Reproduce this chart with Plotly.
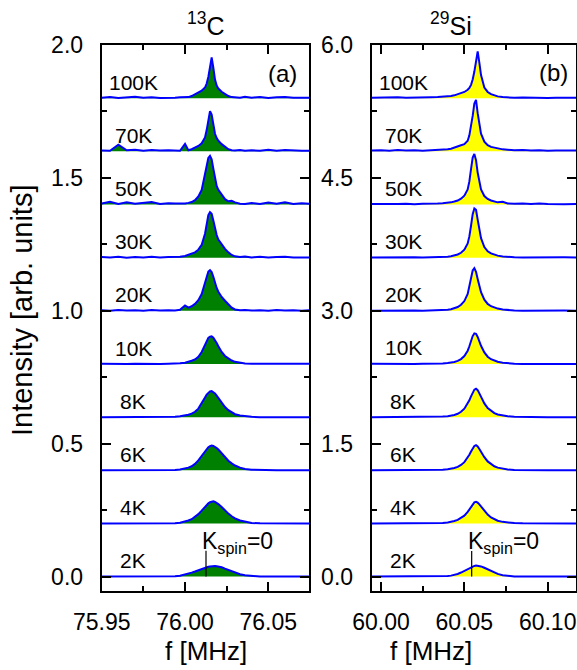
import plotly.graph_objects as go

# ---------------------------------------------------------------------------
# Data
# ---------------------------------------------------------------------------
TEMPS = ["2K", "4K", "6K", "8K", "10K", "20K", "30K", "50K", "70K", "100K"]

# 13C spectra: frequency grid (MHz) and intensities above each baseline
C13_FREQ = [75.950, 75.955, 75.960, 75.965, 75.970, 75.975, 75.980, 75.985, 75.990, 75.994,
            75.997, 76.000, 76.002, 76.004, 76.006, 76.008, 76.010, 76.012, 76.013, 76.014,
            76.015, 76.016, 76.017, 76.018, 76.019, 76.020, 76.022, 76.024, 76.026, 76.028,
            76.030, 76.033, 76.036, 76.040, 76.045, 76.050, 76.055, 76.060, 76.065, 76.070,
            76.0746]

C13_2K = [0, 0, 0, 0, 0, 0, 0, 0, 0, 0.001,
          0.003, 0.007, 0.011, 0.015, 0.019, 0.024, 0.029, 0.033, 0.035, 0.037,
          0.038, 0.039, 0.040, 0.040, 0.039, 0.038, 0.035, 0.030, 0.025, 0.020,
          0.015, 0.009, 0.005, 0.002, 0, 0, 0, 0, 0, 0,
          0]
C13_4K = [0, 0, 0, 0, 0, 0, 0, 0, 0, 0.001,
          0.003, 0.007, 0.011, 0.016, 0.024, 0.035, 0.048, 0.063, 0.070, 0.076,
          0.080, 0.083, 0.083, 0.081, 0.078, 0.073, 0.062, 0.049, 0.037, 0.027,
          0.019, 0.011, 0.006, 0.002, 0.0005, 0, 0, 0, 0, 0,
          0]
C13_6K = [0, 0, 0, 0, 0, 0, 0, 0, 0, 0.001,
          0.003, 0.006, 0.010, 0.015, 0.024, 0.037, 0.053, 0.071, 0.080, 0.087,
          0.091, 0.093, 0.092, 0.089, 0.084, 0.078, 0.064, 0.049, 0.036, 0.026,
          0.018, 0.010, 0.005, 0.002, 0.0005, 0, 0, 0, 0, 0,
          0]
C13_8K = [0, 0, 0, 0, 0, 0, 0, 0, 0, 0.001,
          0.003, 0.006, 0.009, 0.013, 0.020, 0.032, 0.051, 0.074, 0.085, 0.093,
          0.097, 0.098, 0.095, 0.089, 0.081, 0.072, 0.054, 0.038, 0.026, 0.017,
          0.011, 0.006, 0.003, 0.001, 0, 0, 0, 0, 0, 0,
          0]
C13_10K = [0.001, 0, 0.001, 0, 0.001, 0, 0.001, 0, 0.001, 0.001,
           0.003, 0.005, 0.008, 0.012, 0.017, 0.027, 0.045, 0.072, 0.087, 0.098,
           0.103, 0.104, 0.099, 0.090, 0.079, 0.067, 0.045, 0.030, 0.020, 0.013,
           0.008, 0.004, 0.002, 0.001, 0.001, 0, 0.001, 0, 0.001, 0,
           0.001]
C13_20K = [0.002, 0.000, 0.003, 0.001, 0.002, 0.000, 0.003, 0.001, 0.002, 0.001,
           0.004, 0.020, 0.012, 0.017, 0.026, 0.040, 0.063, 0.105, 0.130, 0.148,
           0.153, 0.146, 0.128, 0.105, 0.086, 0.072, 0.052, 0.038, 0.025, 0.012,
           0.005, 0.002, 0.003, 0.001, 0.002, 0.000, 0.003, 0.001, 0.002, 0.000,
           0.002]
C13_30K = [0.002, 0.001, 0.003, 0.000, 0.002, 0.001, 0.003, 0.001, 0.002, 0.002,
           0.003, 0.006, 0.010, 0.014, 0.020, 0.030, 0.048, 0.090, 0.128, 0.160,
           0.171, 0.165, 0.140, 0.110, 0.085, 0.068, 0.048, 0.033, 0.020, 0.010,
           0.005, 0.002, 0.004, 0.001, 0.003, 0.001, 0.002, 0.003, 0.001, 0.002,
           0.001]
C13_50K = [0.004, 0.010, 0.002, 0.008, 0.003, 0.006, 0.009, 0.002, 0.005, 0.004,
           0.003, 0.004, 0.006, 0.009, 0.016, 0.030, 0.055, 0.110, 0.150, 0.175,
           0.183, 0.170, 0.135, 0.095, 0.070, 0.055, 0.035, 0.020, 0.012, 0.014,
           0.008, 0.003, 0.002, 0.006, 0.002, 0.007, 0.003, 0.008, 0.002, 0.005,
           0.003]
C13_70K = [0.003, 0.002, 0.025, 0.004, 0.006, 0.002, 0.005, 0.003, 0.004, 0.002,
           0.002, 0.028, 0.004, 0.008, 0.013, 0.020, 0.030, 0.052, 0.080, 0.125,
           0.151, 0.138, 0.095, 0.066, 0.050, 0.040, 0.027, 0.017, 0.008, 0.004,
           0.003, 0.005, 0.002, 0.004, 0.002, 0.006, 0.002, 0.005, 0.003, 0.002,
           0.002]
C13_100K = [0.002, 0.004, 0.001, 0.003, 0.005, 0.002, 0.003, 0.001, 0.003, 0.002,
            0.003, 0.003, 0.004, 0.008, 0.014, 0.020, 0.028, 0.040, 0.055, 0.080,
            0.120, 0.153, 0.115, 0.070, 0.048, 0.036, 0.024, 0.016, 0.008, 0.004,
            0.003, 0.002, 0.005, 0.002, 0.004, 0.001, 0.003, 0.004, 0.002, 0.003,
            0.002]

# 29Si spectra
SI29_FREQ = [59.9944, 60.000, 60.005, 60.010, 60.015, 60.020, 60.025, 60.030, 60.034, 60.037,
             60.040, 60.042, 60.044, 60.046, 60.048, 60.050, 60.052, 60.053, 60.054, 60.055,
             60.056, 60.057, 60.058, 60.059, 60.060, 60.062, 60.064, 60.066, 60.068, 60.070,
             60.073, 60.076, 60.080, 60.085, 60.090, 60.095, 60.100, 60.105, 60.110, 60.117]

SI29_2K = [0, 0, 0, 0, 0, 0, 0, 0, 0, 0.002,
           0.006, 0.011, 0.019, 0.030, 0.046, 0.066, 0.088, 0.099, 0.108, 0.116,
           0.121, 0.124, 0.123, 0.120, 0.115, 0.100, 0.082, 0.062, 0.045, 0.031,
           0.016, 0.007, 0.002, 0, 0, 0, 0, 0, 0, 0]
SI29_4K = [0, 0, 0, 0, 0, 0, 0, 0, 0.003, 0.006,
           0.012, 0.018, 0.027, 0.040, 0.060, 0.088, 0.130, 0.158, 0.188, 0.215,
           0.238, 0.245, 0.236, 0.215, 0.190, 0.142, 0.100, 0.068, 0.046, 0.031,
           0.018, 0.010, 0.004, 0.001, 0, 0, 0, 0, 0, 0]
SI29_6K = [0, 0, 0, 0, 0, 0, 0, 0, 0.003, 0.006,
           0.011, 0.017, 0.026, 0.039, 0.060, 0.092, 0.140, 0.175, 0.212, 0.248,
           0.275, 0.283, 0.270, 0.240, 0.205, 0.148, 0.100, 0.067, 0.045, 0.030,
           0.017, 0.009, 0.004, 0.001, 0, 0, 0, 0, 0, 0]
SI29_8K = [0, 0, 0, 0, 0, 0, 0, 0, 0.003, 0.006,
           0.011, 0.016, 0.025, 0.038, 0.060, 0.095, 0.150, 0.190, 0.235, 0.278,
           0.310, 0.320, 0.305, 0.268, 0.225, 0.155, 0.102, 0.068, 0.045, 0.030,
           0.017, 0.009, 0.004, 0.001, 0, 0, 0, 0, 0, 0]
SI29_10K = [0.002, 0, 0.002, 0, 0.002, 0, 0.002, 0, 0.003, 0.005,
            0.010, 0.015, 0.023, 0.035, 0.055, 0.090, 0.150, 0.200, 0.260, 0.315,
            0.345, 0.340, 0.305, 0.255, 0.205, 0.130, 0.082, 0.054, 0.037, 0.025,
            0.014, 0.008, 0.003, 0.001, 0.002, 0, 0.002, 0, 0.002, 0]
SI29_20K = [0.002, 0.004, 0.001, 0.003, 0.002, 0.004, 0.001, 0.003, 0.004, 0.007,
            0.012, 0.018, 0.028, 0.043, 0.068, 0.110, 0.190, 0.270, 0.370, 0.455,
            0.480, 0.440, 0.360, 0.280, 0.210, 0.125, 0.078, 0.052, 0.036, 0.025,
            0.014, 0.008, 0.004, 0.002, 0.004, 0.001, 0.003, 0.002, 0.004, 0.002]
SI29_30K = [0.003, 0.005, 0.002, 0.006, 0.003, 0.005, 0.002, 0.004, 0.004, 0.007,
            0.011, 0.016, 0.024, 0.036, 0.055, 0.090, 0.160, 0.240, 0.360, 0.490,
            0.555, 0.540, 0.430, 0.310, 0.220, 0.120, 0.072, 0.048, 0.033, 0.023,
            0.013, 0.008, 0.005, 0.003, 0.005, 0.002, 0.006, 0.003, 0.005, 0.003]
SI29_50K = [0.006, 0.004, 0.010, 0.005, 0.008, 0.004, 0.009, 0.006, 0.010, 0.014,
            0.018, 0.024, 0.033, 0.045, 0.066, 0.100, 0.170, 0.260, 0.400, 0.530,
            0.570, 0.500, 0.360, 0.250, 0.170, 0.095, 0.062, 0.045, 0.032, 0.024,
            0.030, 0.012, 0.008, 0.012, 0.006, 0.010, 0.005, 0.008, 0.004, 0.006]
SI29_70K = [0.008, 0.012, 0.006, 0.014, 0.008, 0.012, 0.006, 0.010, 0.014, 0.018,
            0.024, 0.030, 0.040, 0.055, 0.068, 0.080, 0.120, 0.180, 0.270, 0.400,
            0.540, 0.580, 0.430, 0.290, 0.200, 0.110, 0.070, 0.050, 0.040, 0.030,
            0.022, 0.018, 0.012, 0.016, 0.008, 0.012, 0.006, 0.010, 0.008, 0.010]
SI29_100K = [0.004, 0.008, 0.005, 0.009, 0.006, 0.010, 0.007, 0.010, 0.012, 0.015,
             0.020, 0.025, 0.032, 0.042, 0.055, 0.070, 0.095, 0.115, 0.150, 0.210,
             0.300, 0.440, 0.527, 0.400, 0.260, 0.120, 0.070, 0.045, 0.030, 0.020,
             0.012, 0.008, 0.005, 0.007, 0.004, 0.006, 0.003, 0.005, 0.004, 0.005]

C13_SET = [C13_2K, C13_4K, C13_6K, C13_8K, C13_10K, C13_20K, C13_30K, C13_50K, C13_70K, C13_100K]
SI29_SET = [SI29_2K, SI29_4K, SI29_6K, SI29_8K, SI29_10K, SI29_20K, SI29_30K, SI29_50K, SI29_70K, SI29_100K]

# K_spin = 0 reference frequencies
KSPIN0_C13 = 76.0126
KSPIN0_SI29 = 60.0544

# ---------------------------------------------------------------------------
# Style
# ---------------------------------------------------------------------------
W, H = 577, 670
FONT = "Arial, Liberation Sans, sans-serif"
BLUE = "#0000ff"
GREEN = "#008000"
YELLOW = "#ffff00"
STEP_A, STEP_B = 0.2, 0.6          # vertical offset between stacked spectra
XR_A = [75.95, 76.0746]
XR_B = [59.9944, 60.117]
YR_A = [-0.053, 2.0]
YR_B = [-0.159, 6.0]
DOM_XA = [101.7, 309.3]            # panel extents in pixels
DOM_XB = [371.7, 576.0]
DOM_Y = [590.7, 45.0]


def px_x(p):
    return p / W


def px_y(p):
    return 1 - p / H


fig = go.Figure()


def add_panel(freqs, spectra, step, xr, xa, ya, fill):
    for i, vals in enumerate(spectra):
        off = i * step
        fig.add_trace(go.Scatter(
            x=[xr[0], xr[1]], y=[off, off], mode="lines",
            line=dict(width=0, color=BLUE), xaxis=xa, yaxis=ya,
            showlegend=False, hoverinfo="skip"))
        fig.add_trace(go.Scatter(
            x=freqs, y=[off + v for v in vals], mode="lines",
            line=dict(width=2, color=BLUE), fill="tonexty", fillcolor=fill,
            xaxis=xa, yaxis=ya, showlegend=False, name=TEMPS[i]))


add_panel(C13_FREQ, C13_SET, STEP_A, XR_A, "x", "y", GREEN)
add_panel(SI29_FREQ, SI29_SET, STEP_B, XR_B, "x2", "y2", YELLOW)

tickfont = dict(family=FONT, size=23, color="black")
minor_style = dict(ticks="inside", ticklen=5, tickwidth=1.5, tickcolor="#000000",
                   showgrid=False)


def xaxis(dom, xr, tick0, anchor):
    return dict(domain=[px_x(dom[0]), px_x(dom[1])], range=xr, anchor=anchor,
                tickmode="linear", tick0=tick0, dtick=0.05, tickformat=".2f",
                ticks="inside", ticklen=9, tickwidth=1.5, tickcolor="#000000",
                showline=True, linewidth=2, linecolor="#000000", mirror="allticks",
                showgrid=False, zeroline=False, tickfont=tickfont,
                automargin=False, ticklabelstandoff=10,
                minor=dict(dtick=0.025, **minor_style))


def yaxis(anchor, yr, dtick):
    return dict(domain=[px_y(DOM_Y[0]), px_y(DOM_Y[1])], range=yr, anchor=anchor,
                tickmode="linear", tick0=0, dtick=dtick, tickformat=".1f",
                ticks="inside", ticklen=9, tickwidth=1.5, tickcolor="#000000",
                showline=True, linewidth=2, linecolor="#000000", mirror="allticks",
                showgrid=False, zeroline=False, tickfont=tickfont,
                automargin=False, ticklabelstandoff=12,
                minor=dict(dtick=dtick / 2, **minor_style))


fig.update_layout(
    width=W, height=H, margin=dict(l=0, r=0, t=0, b=0, pad=0),
    paper_bgcolor="white", plot_bgcolor="rgba(0,0,0,0)",
    xaxis=xaxis(DOM_XA, XR_A, 75.95, "y"),
    yaxis=yaxis("x", YR_A, 0.5),
    xaxis2=xaxis(DOM_XB, XR_B, 60.0, "y2"),
    yaxis2=yaxis("x2", YR_B, 1.5),
)

ann = []
# temperature labels
for i, t in enumerate(TEMPS):
    ann.append(dict(x=75.9688, y=i * STEP_A + 0.060, xref="x", yref="y", text=t,
                    showarrow=False, xanchor="center", yanchor="middle",
                    font=dict(family=FONT, size=21, color="black")))
    ann.append(dict(x=60.0132, y=i * STEP_B + 0.181, xref="x2", yref="y2", text=t,
                    showarrow=False, xanchor="center", yanchor="middle",
                    font=dict(family=FONT, size=21, color="black")))

ann += [
    dict(x=76.0585, y=1.894, xref="x", yref="y", text="(a)", showarrow=False,
         font=dict(family=FONT, size=24, color="black")),
    dict(x=60.1035, y=5.693, xref="x2", yref="y2", text="(b)", showarrow=False,
         font=dict(family=FONT, size=24, color="black")),
    dict(x=76.009, y=0.127, xref="x", yref="y", text="K<sub>spin</sub>=0",
         showarrow=False, xanchor="left", yanchor="middle",
         font=dict(family=FONT, size=23, color="black")),
    dict(x=60.0508, y=0.38, xref="x2", yref="y2", text="K<sub>spin</sub>=0",
         showarrow=False, xanchor="left", yanchor="middle",
         font=dict(family=FONT, size=23, color="black")),
    dict(x=px_x(205.5), y=px_y(24), xref="paper", yref="paper",
         text="<sup>13</sup>C", showarrow=False, yanchor="middle",
         font=dict(family=FONT, size=25, color="black")),
    dict(x=px_x(474), y=px_y(24), xref="paper", yref="paper",
         text="<sup>29</sup>Si", showarrow=False, yanchor="middle",
         font=dict(family=FONT, size=25, color="black")),
    dict(x=px_x(205.5), y=px_y(651), xref="paper", yref="paper",
         text="f [MHz]", showarrow=False, yanchor="middle",
         font=dict(family=FONT, size=26, color="black")),
    dict(x=px_x(474), y=px_y(651), xref="paper", yref="paper",
         text="f [MHz]", showarrow=False, yanchor="middle",
         font=dict(family=FONT, size=26, color="black")),
    dict(x=px_x(22), y=px_y(311), xref="paper", yref="paper",
         text="Intensity [arb. units]", showarrow=False, textangle=-90,
         xanchor="center", yanchor="middle",
         font=dict(family=FONT, size=29, color="black")),
]
fig.update_layout(annotations=ann)

fig.add_shape(type="line", x0=KSPIN0_C13, x1=KSPIN0_C13, y0=0, y1=0.097,
              xref="x", yref="y", line=dict(color="black", width=1.2))
fig.add_shape(type="line", x0=KSPIN0_SI29, x1=KSPIN0_SI29, y0=0, y1=0.29,
              xref="x2", yref="y2", line=dict(color="black", width=1.2))

fig.write_html("out.html")
